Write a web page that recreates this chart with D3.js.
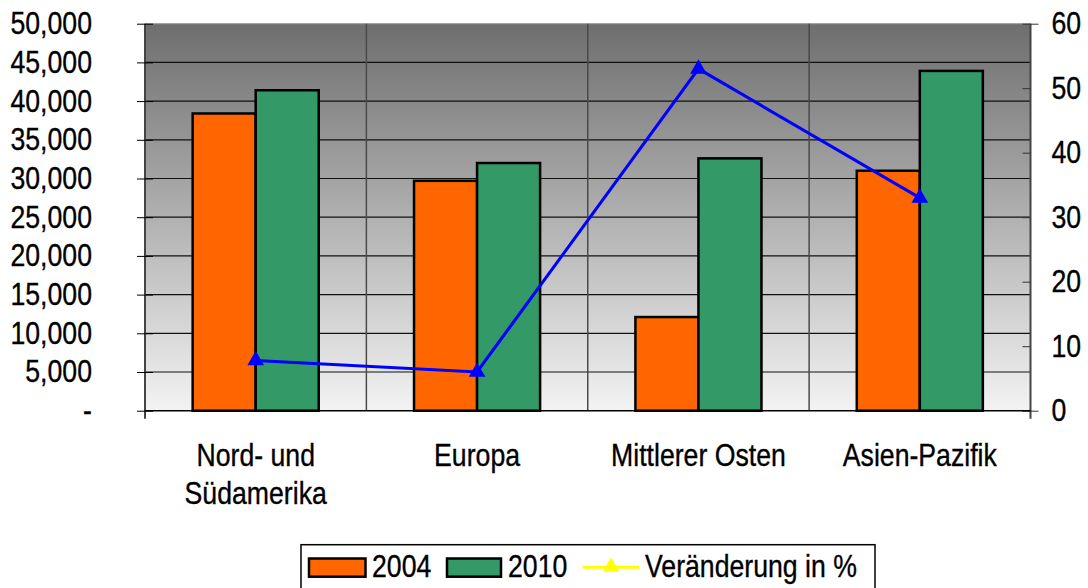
<!DOCTYPE html>
<html>
<head>
<meta charset="utf-8">
<script src="https://cdn.jsdelivr.net/npm/d3@7"></script>
<style>
  body { margin: 0; background: #fff; }
  svg text { font-family: "Liberation Sans", Arial, sans-serif; fill: #000; stroke: #000; stroke-width: 0.35px; }
</style>
</head>
<body>
<svg id="chart" width="1088" height="588"></svg>
<script>
// data
var categories = ["Nord- und Südamerika", "Europa", "Mittlerer Osten", "Asien-Pazifik"];
var catLines = [["Nord- und", "Südamerika"], ["Europa"], ["Mittlerer Osten"], ["Asien-Pazifik"]];
var seriesNames = ["2004", "2010"];
var values2004 = [38400, 29700, 12100, 31000];
var values2010 = [41400, 32000, 32600, 43900];
var changePct = [7.8, 6.0, 53.0, 33.0];
var leftTicks = [0, 5000, 10000, 15000, 20000, 25000, 30000, 35000, 40000, 45000, 50000];
var rightTicks = [0, 10, 20, 30, 40, 50, 60];
var lineLabel = "Veränderung in %";

var colors = { "2004": "#ff6600", "2010": "#339966" },
  SX = 0.86,       // horizontal squeeze of the text
  FS = 31,
  plot = { left: 145, right: 1030.5, top: 23.7, bottom: 410.7 };

var vis = d3.select("#chart");

var x0 = d3.scaleBand().domain(categories).range([plot.left, plot.right]).padding(0),
  x1 = d3.scaleBand().domain(seriesNames).range([0, x0.bandwidth()]).paddingInner(0).paddingOuter(0.756),
  yL = d3.scaleLinear().domain([0, 50000]).range([plot.bottom, plot.top]),
  yR = d3.scaleLinear().domain([0, 60]).range([plot.bottom, plot.top]);

// background gradient
var defs = vis.append("defs");
var grad = defs.append("linearGradient").attr("id", "bg")
  .attr("x1", 0).attr("y1", 0).attr("x2", 0).attr("y2", 1);
grad.append("stop").attr("offset", "0%").attr("stop-color", "#6e6e6e");
grad.append("stop").attr("offset", "100%").attr("stop-color", "#f3f3f3");

vis.append("rect")
  .attr("x", plot.left).attr("y", plot.top)
  .attr("width", plot.right - plot.left).attr("height", plot.bottom - plot.top)
  .attr("fill", "url(#bg)");
vis.append("line")
  .attr("x1", plot.left).attr("x2", plot.right)
  .attr("y1", plot.top).attr("y2", plot.top)
  .attr("stroke", "#9a9a9a").attr("stroke-width", 1);

// horizontal gridlines
vis.append("g").selectAll("line")
  .data(leftTicks.slice(1, -1))
  .enter().append("line")
  .attr("x1", plot.left).attr("x2", plot.right)
  .attr("y1", function (d) { return yL(d); })
  .attr("y2", function (d) { return yL(d); })
  .attr("stroke", "#111").attr("stroke-width", 1.2);

// vertical gridlines between categories
vis.append("g").selectAll("line")
  .data(categories.slice(1))
  .enter().append("line")
  .attr("x1", function (d) { return x0(d); })
  .attr("x2", function (d) { return x0(d); })
  .attr("y1", plot.top).attr("y2", plot.bottom)
  .attr("stroke", "#4a4a4a").attr("stroke-width", 1.5);

// bars
var groups = vis.append("g").selectAll("g")
  .data(categories)
  .enter().append("g")
  .attr("transform", function (d) { return "translate(" + x0(d) + ",0)"; });

groups.selectAll("rect")
  .data(function (d, i) {
    return [{ key: "2004", v: values2004[i] }, { key: "2010", v: values2010[i] }];
  })
  .enter().append("rect")
  .attr("x", function (d) { return x1(d.key); })
  .attr("y", function (d) { return yL(d.v); })
  .attr("width", x1.bandwidth())
  .attr("height", function (d) { return plot.bottom - yL(d.v); })
  .attr("fill", function (d) { return colors[d.key]; })
  .attr("stroke", "#000").attr("stroke-width", 2.5);

// left axis
var axL = vis.append("g")
  .attr("transform", "translate(" + plot.left + ",0)")
  .call(d3.axisLeft(yL).tickValues(leftTicks).tickSize(8).tickPadding(45)
    .tickFormat(function (d) { return d === 0 ? "-" : d3.format(",")(d); }));
axL.select(".domain").attr("stroke", "#444").attr("stroke-width", 2).attr("d", "M0," + plot.top + "V" + (plot.bottom + 8));
axL.selectAll(".tick line").attr("stroke", "#000").attr("x2", -8).attr("x1", 8);
axL.selectAll("text")
  .style("font-size", FS + "px")
  .attr("x", -53 / SX)
  .attr("transform", "scale(" + SX + ",1)");

// right axis
var axR = vis.append("g")
  .attr("transform", "translate(" + plot.right + ",0)")
  .call(d3.axisRight(yR).tickValues(rightTicks).tickSize(-8).tickPadding(21));
axR.select(".domain").attr("stroke", "#444").attr("stroke-width", 2).attr("d", "M0," + plot.top + "V" + (plot.bottom + 8));
axR.selectAll(".tick line").attr("stroke", "#333");
axR.selectAll(".tick line").filter(function (d) { return d === 0 || d === 60; }).attr("x2", 8).attr("x1", -8);
axR.selectAll("text")
  .style("font-size", FS + "px")
  .attr("x", 21 / SX)
  .attr("transform", "scale(" + SX + ",1)");

// bottom axis line
vis.append("line")
  .attr("x1", plot.left).attr("x2", plot.right)
  .attr("y1", plot.bottom).attr("y2", plot.bottom)
  .attr("stroke", "#000").attr("stroke-width", 1.5);

// category labels
categories.forEach(function (c, i) {
  var cx = x0(c) + x0.bandwidth() / 2;
  catLines[i].forEach(function (t, j) {
    vis.append("text")
      .attr("transform", "translate(" + cx + "," + (466 + j * 38) + ") scale(" + SX + ",1)")
      .attr("text-anchor", "middle")
      .style("font-size", FS + "px")
      .text(t);
  });
});

// change line
var line = d3.line()
  .x(function (d, i) { return x0(categories[i]) + x0.bandwidth() / 2; })
  .y(function (d) { return yR(d); });

vis.append("path")
  .datum(changePct)
  .attr("d", line)
  .attr("fill", "none")
  .attr("stroke", "#0000ff")
  .attr("stroke-width", 3);

var tri = d3.symbol().type(d3.symbolTriangle).size(120);
vis.append("g").selectAll("path")
  .data(changePct)
  .enter().append("path")
  .attr("d", tri)
  .attr("transform", function (d, i) {
    return "translate(" + (x0(categories[i]) + x0.bandwidth() / 2) + "," + yR(d) + ")";
  })
  .attr("fill", "#0000ff");

// legend
var leg = vis.append("g");
leg.append("rect")
  .attr("x", 301).attr("y", 544.7).attr("width", 574).attr("height", 60)
  .attr("fill", "#fff").attr("stroke", "#000").attr("stroke-width", 1.5);

var legItems = [
  { label: "2004", color: colors["2004"], x: 309, w: 56.5, tx: 372 },
  { label: "2010", color: colors["2010"], x: 447, w: 54, tx: 508 }
];
legItems.forEach(function (d) {
  leg.append("rect")
    .attr("x", d.x).attr("y", 558.5).attr("width", d.w).attr("height", 18.2)
    .attr("fill", d.color).attr("stroke", "#000").attr("stroke-width", 2.5);
  leg.append("text")
    .attr("transform", "translate(" + d.tx + ",577) scale(" + SX + ",1)")
    .style("font-size", FS + "px")
    .text(d.label);
});
leg.append("line")
  .attr("x1", 582.7).attr("x2", 639.3).attr("y1", 567.3).attr("y2", 567.3)
  .attr("stroke", "#ffff00").attr("stroke-width", 3);
leg.append("path")
  .attr("d", tri)
  .attr("transform", "translate(611,567)")
  .attr("fill", "#ffff00");
leg.append("text")
  .attr("transform", "translate(645,577) scale(" + SX + ",1)")
  .style("font-size", FS + "px")
  .text(lineLabel);
</script>
</body>
</html>
